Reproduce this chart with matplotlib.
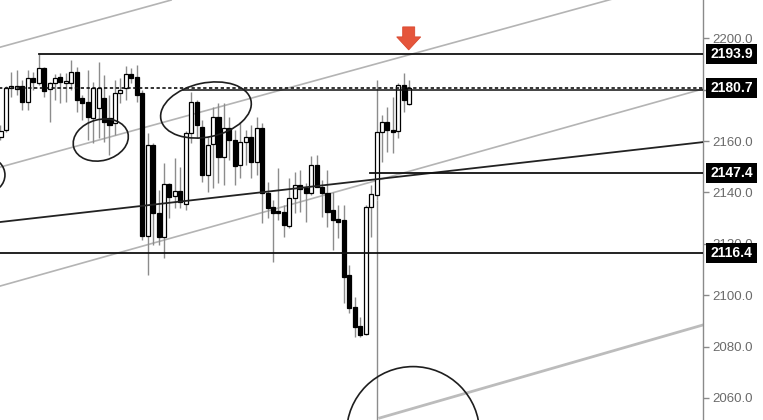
import numpy as np
import matplotlib
matplotlib.use("Agg")
import matplotlib.pyplot as plt
from matplotlib.patches import Ellipse, Polygon, Rectangle
from matplotlib.transforms import ScaledTranslation, blended_transform_factory

# ---------------- data (prices) ----------------
opens = [2161.6, 2164.3, 2180.7, 2180.3, 2181.5, 2175.2, 2184.6, 2182.6, 2188.45, 2180.3,
         2182.6, 2185.0, 2182.6, 2182.6, 2186.9, 2176.8, 2175.2, 2169.0, 2172.9, 2176.8,
         2169.0, 2167.0, 2178.7, 2180.7, 2186.1, 2185.0, 2178.7, 2123.0, 2158.5, 2132.0,
         2122.6, 2143.3, 2138.6, 2140.6, 2135.5, 2163.1, 2175.2, 2165.5, 2146.8, 2158.9,
         2169.4, 2153.8, 2165.1, 2160.4, 2150.7, 2159.6, 2161.6, 2151.9, 2165.1, 2139.8,
         2134.3, 2132.8, 2132.4, 2126.9, 2137.8, 2142.9, 2141.7, 2139.8, 2150.7, 2142.1,
         2139.8, 2133.2, 2129.6, 2129.3, 2107.8, 2095.4, 2088.0, 2084.9, 2134.3, 2139.0,
         2163.5, 2167.4, 2164.3, 2163.9, 2181.9, 2174.4]
highs = [2166.3, 2181.5, 2186.9, 2187.7, 2183.8, 2187.7, 2186.9, 2193.9, 2188.8, 2183.0,
         2186.1, 2186.5, 2186.5, 2191.6, 2188.8, 2178.0, 2187.7, 2183.0, 2190.8, 2185.7,
         2178.0, 2183.8, 2184.6, 2189.2, 2188.45, 2189.6, 2179.9, 2163.1, 2159.2, 2140.9,
         2151.5, 2143.7, 2153.4, 2149.9, 2163.9, 2179.1, 2176.0, 2168.2, 2161.6, 2173.3,
         2174.8, 2174.8, 2169.4, 2164.3, 2167.4, 2164.3, 2166.3, 2169.4, 2167.0, 2144.1,
         2137.1, 2149.5, 2135.1, 2145.6, 2147.9, 2148.7, 2143.7, 2154.2, 2154.6, 2144.8,
         2148.7, 2140.2, 2135.1, 2135.1, 2111.7, 2099.3, 2091.5, 2135.1, 2142.9, 2183.8,
         2170.2, 2173.3, 2177.2, 2182.6, 2186.5, 2183.8]
lows = [2160.4, 2163.5, 2177.2, 2178.0, 2172.1, 2172.1, 2179.9, 2181.9, 2177.2, 2167.4,
        2176.0, 2174.8, 2175.2, 2179.9, 2171.3, 2168.2, 2160.4, 2159.2, 2161.2, 2159.6,
        2154.6, 2162.4, 2174.8, 2176.0, 2182.6, 2175.2, 2121.5, 2107.8, 2119.5, 2119.5,
        2114.5, 2130.0, 2133.9, 2133.9, 2133.2, 2159.2, 2161.2, 2144.1, 2140.2, 2141.7,
        2143.7, 2142.9, 2152.6, 2142.9, 2145.6, 2150.7, 2145.6, 2146.8, 2128.1, 2130.0,
        2112.9, 2129.3, 2122.6, 2126.1, 2132.0, 2132.4, 2128.5, 2139.0, 2142.1, 2130.4,
        2126.5, 2117.6, 2122.2, 2097.0, 2093.1, 2083.7, 2083.7, 2084.5, 2122.6, 2137.1,
        2151.9, 2155.7, 2155.4, 2161.2, 2171.3, 2174.0]
closes = [2163.9, 2180.7, 2180.9, 2181.5, 2175.2, 2184.6, 2183.0, 2188.45, 2179.5, 2182.6,
          2184.6, 2183.0, 2183.4, 2186.9, 2176.0, 2174.8, 2169.4, 2180.7, 2180.7, 2167.4,
          2166.3, 2178.7, 2179.9, 2186.1, 2184.6, 2178.0, 2123.0, 2158.5, 2132.0, 2122.6,
          2143.3, 2138.2, 2140.6, 2136.3, 2163.1, 2175.2, 2166.3, 2146.8, 2158.5, 2169.4,
          2153.8, 2165.1, 2160.4, 2150.3, 2159.6, 2161.6, 2151.9, 2165.1, 2139.8, 2133.9,
          2132.0, 2132.0, 2127.3, 2137.8, 2142.9, 2141.3, 2139.8, 2150.7, 2142.1, 2139.8,
          2132.4, 2129.3, 2128.5, 2107.1, 2095.0, 2087.6, 2084.5, 2134.3, 2139.4, 2163.5,
          2167.4, 2164.3, 2163.5, 2181.9, 2176.0, 2180.7]

# horizontal price levels: (price, start bar, style)
level_prices = [2193.9, 2180.7, 2147.4, 2116.4]
level_starts = [7, -1, 67.8, -1]
level_styles = ['-', ':', '-', '-']
second_line_price = 2179.8   # solid line just under the dotted 2180.7 level
second_line_start = 33.5

# trend lines: (bar0, price0, bar1, price1)
black_trend = (0.0, 2128.5, 128.9, 2159.6)
channel_lines = [(0.0, 2196.6, 31.3, 2214.9),
                 (0.0, 2149.9, 128.9, 2225.0),
                 (0.0, 2103.6, 128.9, 2180.3)]
lower_channel = (69.6, 2052.2, 128.9, 2088.4)

# ellipse annotations: (bar, price, width px, height px, angle)
ellipses = [(-2.3, 2146.8, 34, 34, 0),
            (18.4, 2160.4, 56, 41, 15),
            (37.7, 2172.1, 92, 54, 12),
            (75.7, 2046.3, 133, 133, 0)]
arrow_pos = (74.9, 2195.5)
marker_bar = 69

yticks = [2060, 2080, 2100, 2120, 2140, 2160, 2180, 2200]
ytick_labels = ['2060.0', '2080.0', '2100.0', '2120.0', '2140.0', '2160.0', '', '2200.0']
ylim = (2051.4, 2214.93)
xlim = (-0.09, 128.9)

# ---------------- figure ----------------
W, H = 763, 420
fig = plt.figure(figsize=(W / 100, H / 100), dpi=100)
ax = fig.add_axes([0, 0, 703 / W, 1])
ax.set_xlim(*xlim)
ax.set_ylim(*ylim)

o = np.array(opens); c = np.array(closes); h = np.array(highs); l = np.array(lows)
idx = np.arange(len(o))
up = c >= o

wick_col = '#8c8c8c'
ax.vlines(idx, l, h, color=wick_col, lw=1.0, zorder=3)
ax.vlines(marker_bar, ylim[0], l[marker_bar], color=wick_col, lw=1.0, zorder=3)
bottom = np.minimum(o, c)
height = np.maximum(np.abs(c - o), 0.7)
ax.bar(idx, height, bottom=bottom, width=0.74,
       color=np.where(up, 'white', 'black'), edgecolor='black', linewidth=0.9, zorder=4)

# trend / channel lines
for (x0, p0, x1, p1) in channel_lines:
    ax.plot([x0, x1], [p0, p1], color='#b4b4b4', lw=1.2, zorder=1)
ax.plot([lower_channel[0], lower_channel[2]], [lower_channel[1], lower_channel[3]],
        color='#bcbcbc', lw=2.0, zorder=1)
ax.plot([black_trend[0], black_trend[2]], [black_trend[1], black_trend[3]],
        color='#222222', lw=1.3, zorder=5)

# horizontal levels
for p, s, ls in zip(level_prices, level_starts, level_styles):
    ax.plot([s, xlim[1]], [p, p], color='#111111', lw=1.3 if ls == '-' else 1.2,
            ls=(0, (2, 1.5)) if ls == ':' else '-', zorder=5)
ax.plot([second_line_start, xlim[1]], [second_line_price] * 2, color='#111111', lw=1.1, zorder=5)

# ellipses (sized in pixels, anchored on data)
for (bx, bp, w, hh, ang) in ellipses:
    tr = fig.dpi_scale_trans + ScaledTranslation(bx, bp, ax.transData)
    e = Ellipse((0, 0), w / 100, hh / 100, angle=ang, transform=tr,
                fill=False, ec='#1e1e1e', lw=1.2, zorder=6)
    ax.add_patch(e)

# red arrow
tr = fig.dpi_scale_trans + ScaledTranslation(arrow_pos[0], arrow_pos[1], ax.transData)
pts = np.array([(0, 0), (-12, 13), (-6, 13), (-6, 23), (6, 23), (6, 13), (12, 13)]) / 100
ax.add_patch(Polygon(pts, closed=True, transform=tr, fc='#e5553b', ec='#d9472e', lw=0.6, zorder=7))

ax.set_xlim(*xlim)
ax.set_ylim(*ylim)

# axes styling
for s in ['left', 'top', 'bottom']:
    ax.spines[s].set_visible(False)
ax.spines['right'].set_color('#8a8a8a')
ax.spines['right'].set_linewidth(1.0)
ax.set_xticks([])
ax.yaxis.tick_right()
ax.set_yticks(yticks)
ax.set_yticklabels(ytick_labels)
ax.tick_params(axis='y', direction='out', length=4, width=1, color='#8a8a8a',
               labelcolor='#6a6a6a', labelsize=9.5, pad=3)
for t in ax.get_yticklabels():
    t.set_fontfamily(['Liberation Sans', 'DejaVu Sans'])

# price label boxes
bt = blended_transform_factory(ax.transAxes, ax.transData)
box_h = 20 / (H / (ylim[1] - ylim[0]))
x0a = 1 + 3 / 703
x1a = 1 + 54 / 703
for p in level_prices:
    ax.add_patch(Rectangle((x0a, p - box_h / 2), x1a - x0a, box_h, transform=bt,
                           fc='black', ec='none', clip_on=False, zorder=10))
    ax.text((x0a + x1a) / 2, p, f"{p:.1f}", transform=bt, ha='center', va='center',
            color='white', fontsize=10, fontweight='bold',
            family=['Liberation Sans', 'DejaVu Sans'], clip_on=False, zorder=11)

fig.savefig('out.png', dpi=100, facecolor='white')
